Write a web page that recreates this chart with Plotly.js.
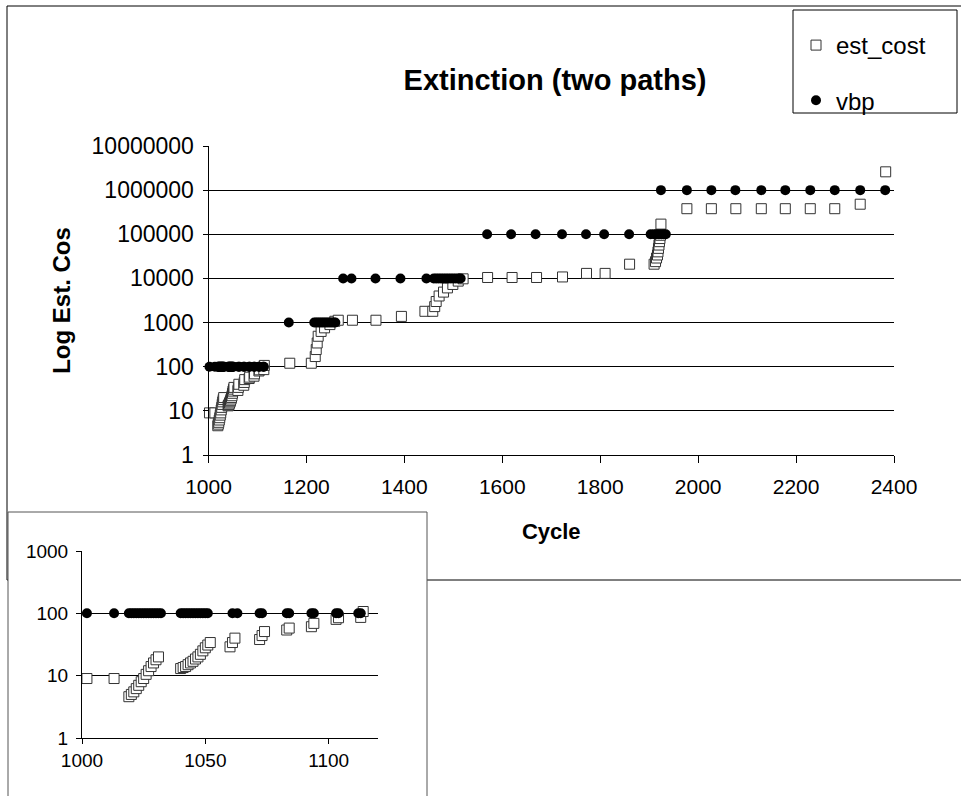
<!DOCTYPE html>
<html>
<head>
<meta charset="utf-8">
<script src="https://cdn.plot.ly/plotly-3.0.1.min.js"></script>
<style>html,body{margin:0;padding:0;background:#fff;}#chart{width:961px;height:796px;}</style>
</head>
<body>
<div id="chart"></div>
<script>
// ---- data ----
const estCycle = [1002,1013,1019,1020,1021,1022,1023,1024,1025,1026,1027,1028,1029,1030,1031,
  1040,1041,1042,1043,1044,1045,1046,1047,1048,1049,1050,1051,1052,
  1060,1061,1062,1072,1073,1074,1083,1084,1093,1094,1103,1104,1113,1114,
  1166,1210,1218,1220,1222,1224,1230,1237,1248,1258,1265,1294,1342,1394,
  1442,1458,1462,1465,1471,1480,1488,1499,1510,1520,
  1570,1620,1670,1723,1772,1810,1860,1910,1913,1915,1917,1918,1919,1920,1921,1922,1923,1924,
  1977,2027,2077,2129,2178,2229,2279,2331,2383];
const estCost = [9,9,4.6,5,5.5,6.2,7,8,9,10.5,12,14,16,18,20,
  13,13.5,14,15,16,17,18.5,20,22,25,28,31,34,
  29,34,40,38,44,51,54,58,61,69,80,85,86,107,
  120,120,170,245,345,490,630,760,900,1070,1130,1130,1130,1380,
  1800,1800,2300,3000,4000,4900,6100,7300,8700,9800,
  10500,10500,10500,10800,13000,13000,21000,21000,24000,29000,34000,40000,48000,57000,68000,80000,95000,170000,
  380000,380000,380000,380000,380000,380000,380000,480000,2600000];

const vbpCycle = [1002,1013,1019,1020,1021,1022,1023,1024,1025,1026,1027,1028,1029,1030,1031,1032,
  1040,1041,1042,1043,1044,1045,1046,1047,1048,1049,1050,1051,
  1061,1063,1072,1073,1083,1084,1093,1094,1103,1104,1112,1113,
  1164,1216,1220,1224,1228,1232,1236,1240,1244,1248,1252,1256,1259,
  1275,1292,1341,1392,1445,1460,1465,1470,1475,1480,1485,1490,1495,1500,1505,1510,1515,
  1569,1618,1668,1722,1771,1808,1859,1903,1910,1915,1920,1925,1930,1934,
  1924,1977,2027,2076,2129,2178,2229,2279,2331,2382];
const vbpValue = [100,100,100,100,100,100,100,100,100,100,100,100,100,100,100,100,
  100,100,100,100,100,100,100,100,100,100,100,100,
  100,100,100,100,100,100,100,100,100,100,100,100,
  1000,1000,1000,1000,1000,1000,1000,1000,1000,1000,1000,1000,1000,
  10000,10000,10000,10000,10000,10000,10000,10000,10000,10000,10000,10000,10000,10000,10000,10000,10000,
  100000,100000,100000,100000,100000,100000,100000,100000,100000,100000,100000,100000,100000,100000,
  1000000,1000000,1000000,1000000,1000000,1000000,1000000,1000000,1000000,1000000];

const seriesNames = ['est_cost','vbp'];
const mainXTicks = [1000,1200,1400,1600,1800,2000,2200,2400];
const mainYTicks = [1,10,100,1000,10000,100000,1000000,10000000];
const mainYLabels = ['1','10','100','1000','10000','100000','1000000','10000000'];
const insetXTicks = [1000,1050,1100];
const insetYTicks = [1,10,100,1000];
const insetYLabels = ['1','10','100','1000'];
const chartTitle = 'Extinction (two paths)';
const xTitle = 'Cycle';
const yTitle = 'Log Est. Cos';

// ---- layout helpers (pixel -> paper) ----
const W = 961, H = 796;
const px = x => x / W;
const py = y => 1 - y / H;
const FONT = 'Liberation Sans, Arial, sans-serif';

const sqMarker = s => ({symbol:'square', size:s, color:'#ffffff', line:{color:'#333333', width:1}});
const dotMarker = s => ({symbol:'circle', size:s, color:'#000000', line:{width:0}});

const traces = [
  {x:estCycle, y:estCost, name:seriesNames[0], type:'scatter', mode:'markers', xaxis:'x', yaxis:'y',
   marker:sqMarker(10), cliponaxis:false, legendgroup:'a'},
  {x:vbpCycle, y:vbpValue, name:seriesNames[1], type:'scatter', mode:'markers', xaxis:'x', yaxis:'y',
   marker:dotMarker(10), cliponaxis:false, legendgroup:'b'},
  {x:estCycle, y:estCost, name:seriesNames[0], type:'scatter', mode:'markers', xaxis:'x2', yaxis:'y2',
   marker:sqMarker(10), cliponaxis:true, showlegend:false},
  {x:vbpCycle, y:vbpValue, name:seriesNames[1], type:'scatter', mode:'markers', xaxis:'x2', yaxis:'y2',
   marker:dotMarker(10), cliponaxis:true, showlegend:false}
];

const layout = {
  width:W, height:H, margin:{l:0,r:0,t:0,b:0},
  paper_bgcolor:'#ffffff', plot_bgcolor:'rgba(0,0,0,0)',
  font:{family:FONT, color:'#000000'},
  showlegend:true,
  title:{text:'<b>'+chartTitle+'</b>', font:{size:29, family:FONT, color:'#000'},
         x:px(555), xanchor:'center', xref:'paper', y:py(80), yanchor:'middle', yref:'paper'},
  legend:{x:px(796), xanchor:'left', y:py(23), yanchor:'top', bgcolor:'rgba(0,0,0,0)', borderwidth:0,
          font:{size:24, family:FONT, color:'#000'}, tracegroupgap:21, itemclick:false},
  xaxis:{domain:[px(208.5), px(894)], range:[1000,2400], anchor:'y', tickvals:mainXTicks,
         ticks:'outside', ticklen:7, tickcolor:'#000', showline:true, linecolor:'#000', linewidth:1,
         showgrid:false, zeroline:false, tickfont:{size:21, family:FONT, color:'#000'}, ticklabelstandoff:6,
         title:{text:'<b>'+xTitle+'</b>', font:{size:22, family:FONT, color:'#000'}, standoff:26}},
  xaxis3:{overlaying:'x', anchor:'y', range:[1000,2400], tickvals:mainXTicks, ticks:'inside', ticklen:7,
          tickcolor:'#000', showticklabels:false, showline:false, showgrid:false, zeroline:false},
  yaxis:{domain:[py(455), py(146)], type:'log', range:[0,7], anchor:'x', tickvals:mainYTicks, ticktext:mainYLabels,
         ticks:'outside', ticklen:5, tickcolor:'#000', showline:true, linecolor:'#000', linewidth:1,
         showgrid:true, gridcolor:'#000', gridwidth:1, zeroline:false,
         tickfont:{size:23, family:FONT, color:'#000'}, ticklabelstandoff:4,
         title:{text:'<b>'+yTitle+'</b>', font:{size:24, family:FONT, color:'#000'}, standoff:14}},
  xaxis2:{domain:[px(82), px(378)], range:[1000,1120], anchor:'y2', tickvals:insetXTicks,
          ticks:'outside', ticklen:5, tickcolor:'#000', showline:true, linecolor:'#000', linewidth:1,
          showgrid:false, zeroline:false, tickfont:{size:19, family:FONT, color:'#000'}, ticklabelstandoff:0},
  xaxis4:{overlaying:'x2', anchor:'y2', range:[1000,1120], tickvals:insetXTicks, ticks:'inside', ticklen:5,
          tickcolor:'#000', showticklabels:false, showline:false, showgrid:false, zeroline:false},
  yaxis2:{domain:[py(738), py(551)], type:'log', range:[0,3], anchor:'x2', tickvals:insetYTicks, ticktext:insetYLabels,
          ticks:'outside', ticklen:5, tickcolor:'#000', showline:true, linecolor:'#000', linewidth:1,
          showgrid:true, gridcolor:'#000', gridwidth:1, zeroline:false,
          tickfont:{size:19, family:FONT, color:'#000'}, ticklabelstandoff:4},
  shapes:[
    {type:'rect', xref:'paper', yref:'paper', x0:px(7), x1:px(990), y0:py(580), y1:py(6),
     line:{color:'#000', width:1}, fillcolor:'rgba(0,0,0,0)', layer:'below'},
    {type:'rect', xref:'paper', yref:'paper', x0:px(8), x1:px(427), y0:py(830), y1:py(512),
     line:{color:'#555', width:1}, fillcolor:'#ffffff', layer:'below'},
    {type:'rect', xref:'paper', yref:'paper', x0:px(793), x1:px(957), y0:py(113), y1:py(10),
     line:{color:'#000', width:1}, fillcolor:'#ffffff', layer:'below'}
  ]
};

Plotly.newPlot('chart', traces, layout, {staticPlot:true, displayModeBar:false});
</script>
</body>
</html>
